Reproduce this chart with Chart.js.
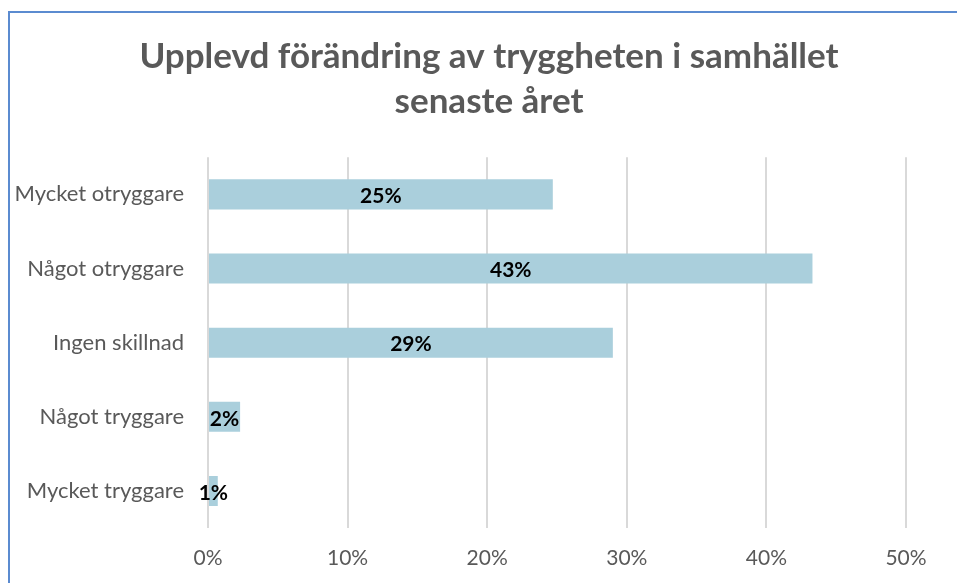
<!DOCTYPE html>
<html>
<head>
<meta charset="utf-8">
<script src="https://cdn.jsdelivr.net/npm/chart.js@4/dist/chart.umd.min.js"></script>
<style>
html,body{margin:0;padding:0;background:#fff;overflow:hidden;width:957px;height:583px;}
#wrap{position:absolute;left:0;top:0;width:978px;height:583px;}
#frame{position:absolute;left:8px;top:11px;width:960px;height:600px;border-left:2px solid #5b8bd0;border-top:2px solid #5b8bd0;pointer-events:none;}
</style>
</head>
<body>
<div id="wrap"><canvas id="c" width="978" height="583"></canvas></div>
<div id="frame"></div>
<script>
const titleLines = ["Upplevd förändring av tryggheten i samhället", "senaste året"];
const categories = ["Mycket otryggare", "Något otryggare", "Ingen skillnad", "Något tryggare", "Mycket tryggare"];
const values = [24.7, 43.3, 29.0, 2.3, 0.7];
const valueLabels = ["25%", "43%", "29%", "2%", "1%"];
const xTicks = [0, 10, 20, 30, 40, 50];

const barLabels = {
  id: 'barLabels',
  afterDatasetsDraw(chart) {
    const ctx = chart.ctx;
    const meta = chart.getDatasetMeta(0);
    ctx.save();
    ctx.font = 'bold 21px Lato';
    ctx.fillStyle = '#000';
    ctx.textAlign = 'center';
    ctx.textBaseline = 'middle';
    meta.data.forEach((bar, i) => {
      const cx = (bar.x + bar.base) / 2;
      ctx.fillText(valueLabels[i], cx, bar.y + 2);
    });
    ctx.restore();
  }
};

new Chart(document.getElementById('c'), {
  type: 'bar',
  data: {
    labels: categories,
    datasets: [{
      data: values,
      yAxisID: 'y',
      backgroundColor: '#aacfdc',
      borderWidth: 0,
      categoryPercentage: 1,
      barPercentage: 0.405
    }]
  },
  options: {
    indexAxis: 'y',
    responsive: false,
    animation: false,
    layout: { padding: { top: 1, left: 0, right: 0, bottom: 0 } },
    plugins: {
      legend: { display: false },
      tooltip: { enabled: false },
      title: {
        display: true,
        text: titleLines,
        color: '#595959',
        font: { family: 'Lato', size: 35, weight: 'bold', lineHeight: 1.29 },
        padding: { top: 33, bottom: 33 }
      }
    },
    scales: {
      x: {
        min: 0, max: 50,
        afterBuildTicks(scale) { scale.ticks = xTicks.map(v => ({ value: v })); },
        afterFit(scale) { scale.height = 55; },
        grid: { color: '#d9d9d9', lineWidth: 2, drawTicks: false },
        border: { display: false },
        ticks: {
          color: '#595959',
          font: { family: 'Lato', size: 21 },
          padding: 18,
          callback: v => v + '%'
        }
      },
      y: {
        position: 'left',
        afterFit(scale) { scale.width = 208; },
        grid: { display: false },
        border: { display: false },
        ticks: {
          color: '#595959',
          font: { family: 'Lato', size: 22 },
          padding: 16
        }
      },
      yRight: {
        type: 'category',
        position: 'right',
        afterFit(scale) { scale.width = 72; },
        grid: { display: false },
        border: { display: false },
        ticks: { display: false }
      }
    }
  },
  plugins: [barLabels]
});
</script>
</body>
</html>
